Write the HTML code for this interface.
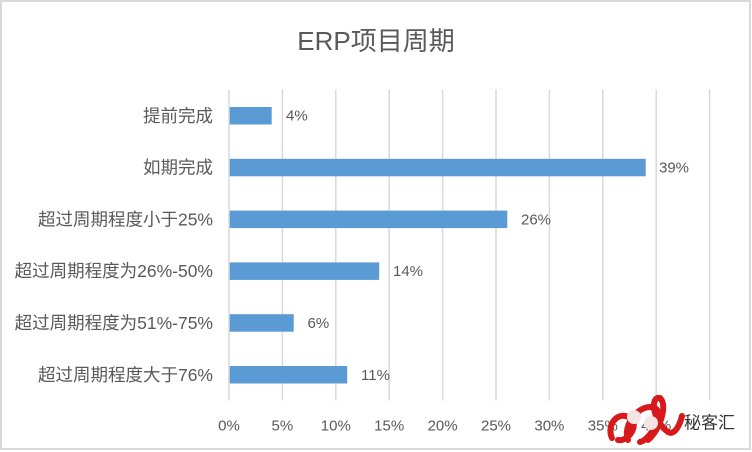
<!DOCTYPE html>
<html><head><meta charset="utf-8">
<style>
html,body{margin:0;padding:0;background:#fff;}
svg{display:block;}
text{font-family:"Liberation Sans","Noto Sans CJK SC",sans-serif;fill:#595959;}
</style></head>
<body>
<svg width="752" height="452" viewBox="0 0 752 452" xmlns="http://www.w3.org/2000/svg">
<rect x="0" y="0" width="752" height="452" fill="#fff"/>
<rect x="1" y="1" width="749" height="448" fill="none" stroke="#D9D9D9" stroke-width="2"/>
<text x="376" y="41" text-anchor="middle" dominant-baseline="central" font-size="26">ERP项目周期</text>
<g stroke="#D9D9D9" stroke-width="1.5">
<line x1="229" y1="89.5" x2="229" y2="400.5"/>
<line x1="282.4" y1="89.5" x2="282.4" y2="400.5"/>
<line x1="335.8" y1="89.5" x2="335.8" y2="400.5"/>
<line x1="389.2" y1="89.5" x2="389.2" y2="400.5"/>
<line x1="442.6" y1="89.5" x2="442.6" y2="400.5"/>
<line x1="496" y1="89.5" x2="496" y2="400.5"/>
<line x1="549.4" y1="89.5" x2="549.4" y2="400.5"/>
<line x1="602.8" y1="89.5" x2="602.8" y2="400.5"/>
<line x1="656.2" y1="89.5" x2="656.2" y2="400.5"/>
<line x1="709.6" y1="89.5" x2="709.6" y2="400.5"/>
</g>
<g fill="#5B9BD5">
<rect x="229.7" y="107" width="42" height="17.5"/>
<rect x="229.7" y="158.8" width="416" height="17.5"/>
<rect x="229.7" y="210.6" width="277.6" height="17.5"/>
<rect x="229.7" y="262.4" width="149.5" height="17.5"/>
<rect x="229.7" y="314.2" width="64" height="17.5"/>
<rect x="229.7" y="366" width="117.5" height="17.5"/>
</g>
<g font-size="17.5" text-anchor="end" dominant-baseline="central">
<text x="213" y="115.8">提前完成</text>
<text x="213" y="167.6">如期完成</text>
<text x="213" y="219.4">超过周期程度小于25%</text>
<text x="213" y="271.2">超过周期程度为26%-50%</text>
<text x="213" y="323">超过周期程度为51%-75%</text>
<text x="213" y="374.8">超过周期程度大于76%</text>
</g>
<g font-size="15" dominant-baseline="central">
<text x="286" y="116">4%</text>
<text x="659" y="168">39%</text>
<text x="521" y="220">26%</text>
<text x="393" y="271.5">14%</text>
<text x="307.5" y="323.5">6%</text>
<text x="361" y="375.5">11%</text>
</g>
<g font-size="15" text-anchor="middle" dominant-baseline="central">
<text x="229" y="426">0%</text>
<text x="282.4" y="426">5%</text>
<text x="335.8" y="426">10%</text>
<text x="389.2" y="426">15%</text>
<text x="442.6" y="426">20%</text>
<text x="496" y="426">25%</text>
<text x="549.4" y="426">30%</text>
<text x="602.8" y="426">35%</text>
<text x="656.2" y="426">40%</text>
</g>
<!-- watermark -->
<g>
<path d="M612 438 C606 425 618 410 630 418 C640 425 628 442 618 440 M628 440 C622 425 640 402 655 408 C665 414 650 440 640 442 M648 440 C660 430 668 405 660 398 C650 396 652 420 668 432 C675 436 680 424 682 416" fill="none" stroke="#D8191C" stroke-width="6" stroke-linecap="round"/>
<circle cx="634" cy="417" r="7" fill="#f4e4e4"/>
<circle cx="651" cy="423" r="7" fill="#f4e4e4"/>
<text x="684" y="423" font-size="17" dominant-baseline="central" style="fill:#333">秘客汇</text>
</g>
</svg>
</body></html>
